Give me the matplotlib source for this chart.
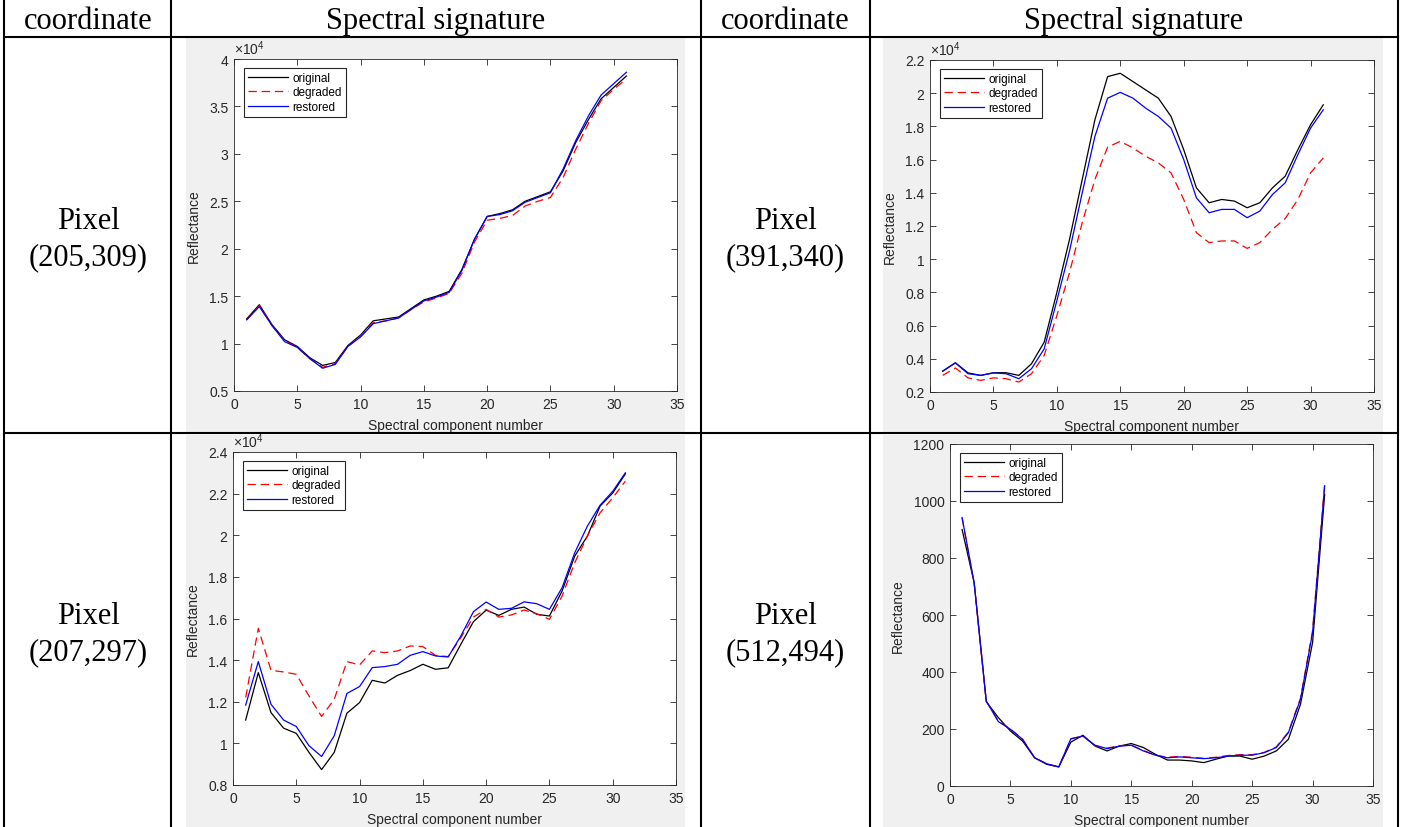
import matplotlib
matplotlib.use('Agg')
import matplotlib.pyplot as plt
from matplotlib.patches import Rectangle
from matplotlib.lines import Line2D
from matplotlib.ticker import MultipleLocator, FuncFormatter

plt.rcParams['font.family'] = ['Liberation Sans', 'DejaVu Sans']
plt.rcParams['mathtext.fontset'] = 'custom'
plt.rcParams['mathtext.rm'] = 'Liberation Sans'
plt.rcParams['mathtext.it'] = 'Liberation Sans'
plt.rcParams['lines.scale_dashes'] = False

W, H = 1406, 828
bands = list(range(1, 32))

# ---------------- data ----------------
header = ["coordinate", "Spectral signature", "coordinate", "Spectral signature"]
coords = ["Pixel\n(205,309)", "Pixel\n(391,340)", "Pixel\n(207,297)", "Pixel\n(512,494)"]
series_names = ["original", "degraded", "restored"]

# Pixel (205,309)  (x 10^4)
p1_orig = [1.26, 1.41, 1.20, 1.04, 0.97, 0.85, 0.77, 0.80, 0.98, 1.09, 1.24, 1.26, 1.28, 1.37, 1.46, 1.50,
           1.55, 1.78, 2.10, 2.34, 2.37, 2.41, 2.50, 2.55, 2.60, 2.82, 3.12, 3.36, 3.58, 3.70, 3.82]
p1_degr = [1.25, 1.40, 1.19, 1.03, 0.96, 0.84, 0.75, 0.79, 0.97, 1.08, 1.22, 1.24, 1.27, 1.36, 1.44, 1.48,
           1.53, 1.74, 2.07, 2.30, 2.32, 2.35, 2.45, 2.50, 2.54, 2.75, 3.05, 3.32, 3.56, 3.68, 3.79]
p1_rest = [1.25, 1.39, 1.19, 1.02, 0.96, 0.84, 0.74, 0.78, 0.97, 1.07, 1.21, 1.24, 1.27, 1.36, 1.45, 1.49,
           1.54, 1.77, 2.10, 2.34, 2.36, 2.40, 2.49, 2.54, 2.59, 2.84, 3.14, 3.40, 3.62, 3.74, 3.86]

# Pixel (391,340)  (x 10^4)
p2_orig = [0.326, 0.376, 0.315, 0.300, 0.316, 0.316, 0.300, 0.370, 0.500, 0.800, 1.120, 1.480, 1.840, 2.100,
           2.120, 2.070, 2.020, 1.970, 1.860, 1.660, 1.430, 1.340, 1.360, 1.350, 1.310, 1.340, 1.430, 1.500,
           1.660, 1.810, 1.930]
p2_degr = [0.300, 0.345, 0.285, 0.270, 0.285, 0.280, 0.260, 0.310, 0.420, 0.660, 0.920, 1.220, 1.480, 1.675,
           1.710, 1.670, 1.620, 1.580, 1.520, 1.360, 1.160, 1.100, 1.110, 1.110, 1.065, 1.100, 1.180, 1.245,
           1.360, 1.520, 1.610]
p2_rest = [0.325, 0.375, 0.310, 0.300, 0.315, 0.310, 0.280, 0.340, 0.460, 0.750, 1.050, 1.400, 1.740, 1.970,
           2.005, 1.970, 1.910, 1.860, 1.790, 1.600, 1.370, 1.280, 1.300, 1.300, 1.250, 1.290, 1.390, 1.460,
           1.630, 1.790, 1.900]

# Pixel (207,297)  (x 10^4)
p3_orig = [1.112, 1.340, 1.148, 1.073, 1.048, 0.957, 0.874, 0.957, 1.145, 1.196, 1.303, 1.290, 1.327, 1.350,
           1.380, 1.356, 1.363, 1.476, 1.585, 1.640, 1.615, 1.644, 1.655, 1.620, 1.612, 1.732, 1.900, 1.996,
           2.140, 2.203, 2.295]
p3_degr = [1.220, 1.553, 1.351, 1.343, 1.332, 1.228, 1.129, 1.212, 1.393, 1.377, 1.444, 1.436, 1.444, 1.468,
           1.465, 1.423, 1.417, 1.508, 1.607, 1.644, 1.607, 1.617, 1.641, 1.623, 1.596, 1.708, 1.868, 1.996,
           2.108, 2.180, 2.260]
p3_rest = [1.184, 1.393, 1.188, 1.112, 1.081, 0.989, 0.937, 1.037, 1.240, 1.273, 1.364, 1.369, 1.380, 1.423,
           1.441, 1.420, 1.415, 1.516, 1.633, 1.679, 1.644, 1.649, 1.680, 1.671, 1.644, 1.748, 1.916, 2.044,
           2.144, 2.211, 2.300]

# Pixel (512,494)
p4_orig = [900, 713, 296, 240, 193, 158, 99, 76, 67, 154, 178, 140, 123, 140, 149, 135, 111, 91, 91, 88, 82,
           94, 105, 105, 94, 105, 123, 164, 287, 503, 1023]
p4_degr = [940, 710, 298, 228, 200, 165, 99, 78, 67, 165, 176, 141, 133, 141, 143, 125, 108, 101, 104, 101, 97,
           101, 107, 110, 110, 118, 137, 190, 308, 545, 1060]
p4_rest = [942, 713, 298, 226, 199, 164, 99, 78, 67, 166, 175, 143, 131, 140, 143, 123, 108, 99, 102, 99, 96,
           99, 105, 108, 108, 117, 135, 187, 304, 538, 1053]

# ---------------- layout helpers ----------------
fig = plt.figure(figsize=(W / 100, H / 100), dpi=100)
fig.patch.set_facecolor('white')


def fx(x):
    return x / W


def fy(y):
    return 1 - y / H


# grey figure panels (MATLAB figure background)
panels = [(186, 39, 685, 433), (883, 39, 1383, 433), (186, 436, 685, 828), (883, 436, 1383, 828)]
for (x0, y0, x1, y1) in panels:
    fig.add_artist(Rectangle((fx(x0), fy(y1)), fx(x1) - fx(x0), fy(y0) - fy(y1),
                             transform=fig.transFigure, facecolor='#f0f0f0',
                             edgecolor='none', zorder=0))

# table grid
for x in [4, 171, 701, 870, 1398]:
    fig.add_artist(Line2D([fx(x), fx(x)], [fy(0), fy(828)], transform=fig.transFigure,
                          color='black', lw=1.5, zorder=5))
for y in [38, 434]:
    fig.add_artist(Line2D([fx(4), fx(1398)], [fy(y), fy(y)], transform=fig.transFigure,
                          color='black', lw=1.5, zorder=5))

# header texts
serif = ['Liberation Serif', 'DejaVu Serif']
hdr_x = [88, 436, 785, 1134]
for t, x in zip(header, hdr_x):
    fig.text(fx(x), fy(29), t, ha='center', va='baseline', fontsize=22, family=serif)

# coordinate cells
cell_pos = [(88, 229), (785, 229), (88, 624), (785, 624)]
for c, (x, yb) in zip(coords, cell_pos):
    l1, l2 = c.split('\n')
    fig.text(fx(x), fy(yb), l1, ha='center', va='baseline', fontsize=22, family=serif)
    fig.text(fx(x), fy(yb + 36), l2, ha='center', va='baseline', fontsize=22, family=serif)

# axes
axes_px = [(234, 60, 677, 392), (930, 61, 1374, 393), (233, 453, 676, 786), (950, 445, 1373, 787)]
data = [(p1_orig, p1_degr, p1_rest), (p2_orig, p2_degr, p2_rest),
        (p3_orig, p3_degr, p3_rest), (p4_orig, p4_degr, p4_rest)]
ylims = [(0.5, 4.0, 0.5), (0.2, 2.2, 0.2), (0.8, 2.4, 0.2), (0, 1200, 200)]
exps = [True, True, True, False]

axc = '#262626'
for (l, t, r, b), (o, d, rs), (y0, y1, step), ex in zip(axes_px, data, ylims, exps):
    ax = fig.add_axes([fx(l), fy(b), fx(r) - fx(l), fy(t) - fy(b)])
    ax.set_facecolor('white')
    ax.plot(bands, o, color='black', lw=0.9, label=series_names[0])
    ax.plot(bands, d, color='#ff0000', lw=0.9, dashes=(6, 3.5), label=series_names[1])
    ax.plot(bands, rs, color='#0000ff', lw=0.9, label=series_names[2])
    ax.set_xlim(0, 35)
    ax.set_ylim(y0, y1)
    ax.xaxis.set_major_locator(MultipleLocator(5))
    ax.yaxis.set_major_locator(MultipleLocator(step))
    ax.yaxis.set_major_formatter(FuncFormatter(lambda v, p: f'{round(v, 6):g}'))
    ax.tick_params(direction='in', length=4, width=0.6, top=True, right=True,
                   colors=axc, labelsize=10, pad=4)
    for s in ax.spines.values():
        s.set_color(axc)
        s.set_linewidth(0.6)
    ax.set_xlabel('Spectral component number', fontsize=10, color=axc, labelpad=5.5)
    ax.set_ylabel('Reflectance', fontsize=10, color=axc, labelpad=6)
    if ex:
        ax.text(0.0, 1.006, r'$\times 10^{4}$', transform=ax.transAxes, ha='left', va='bottom',
                fontsize=10, color=axc)
    leg = ax.legend(loc='upper left', bbox_to_anchor=(10 / (r - l), 1 - 9 / (b - t)),
                    borderaxespad=0, fontsize=8.5, frameon=True, fancybox=False,
                    edgecolor=axc, framealpha=1, handlelength=3.4, handletextpad=0.35,
                    labelspacing=0.2, borderpad=0.35)
    leg.get_frame().set_linewidth(0.8)

fig.savefig('out.png', dpi=100)
